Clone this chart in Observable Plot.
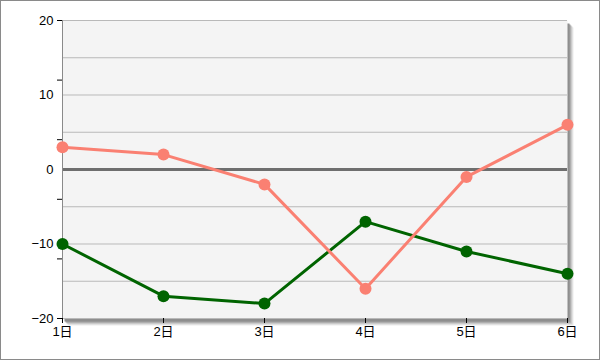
<!DOCTYPE html>
<html><head><meta charset="utf-8">
<script src="https://cdn.jsdelivr.net/npm/d3@7"></script>
<script src="https://cdn.jsdelivr.net/npm/@observablehq/plot@0.6"></script>
<style>
html,body{margin:0;padding:0;background:#fff;}
#chart{position:relative;width:600px;height:360px;overflow:hidden;}
#chart svg{display:block;}
#border{position:absolute;left:0;top:0;width:598px;height:358px;border:1px solid #8a8a8a;pointer-events:none;}
</style></head><body>
<div id="chart"><div id="border"></div></div>
<script>
const days = ["1日","2日","3日","4日","5日","6日"];
const salmonValues = [3, 2, -2, -16, -1, 6];
const greenValues = [-10, -17, -18, -7, -11, -14];
const yLabelTicks = [20, 10, 0, -10, -20];
const yMarkTicks = [20, 12, 4, -4, -12, -20];
const yGridValues = [20, 15, 10, 5, -5, -10, -15, -20];

const salmonData = days.map((d, i) => ({day: d, value: salmonValues[i]}));
const greenData = days.map((d, i) => ({day: d, value: greenValues[i]}));

const shadowLayers = [
  {off: 6, fill: "#ececec"},
  {off: 5, fill: "#d6d6d6"},
  {off: 4, fill: "#bdbdbd"},
  {off: 3, fill: "#a2a2a2"},
  {off: 2, fill: "#8e8e8e"}
];

const chart = Plot.plot({
  width: 600,
  height: 360,
  marginLeft: 62,
  marginRight: 33,
  marginTop: 20,
  marginBottom: 42,
  style: {
    fontFamily: "'Liberation Sans', 'Noto Sans CJK JP', sans-serif",
    fontSize: "13px",
    background: "transparent",
    color: "#000"
  },
  x: {type: "point", domain: days, padding: 0, axis: null},
  y: {domain: [-20, 20], axis: null},
  marks: [
    ...shadowLayers.map(s => Plot.frame({fill: s.fill, stroke: null, dx: s.off, dy: s.off + 1})),
    Plot.frame({fill: "#f4f4f4", stroke: null}),
    Plot.ruleY(yGridValues, {stroke: "#b9b9b9", strokeWidth: 1}),
    Plot.ruleY([0], {stroke: "#6e6e6e", strokeWidth: 3}),
    Plot.ruleX([days[0]], {stroke: "#8a8a8a", strokeWidth: 1}),
    Plot.axisY({ticks: yMarkTicks, tickFormat: () => "", tickSize: 5, stroke: "#000", label: null}),
    Plot.axisY({ticks: yLabelTicks, tickSize: 0, tickPadding: 9, fill: "#000", label: null}),
    Plot.axisX({tickSize: 5, tickPadding: 3, stroke: "#000", fill: "#000", label: null}),
    Plot.line(greenData, {x: "day", y: "value", stroke: "#006400", strokeWidth: 3}),
    Plot.dot(greenData, {x: "day", y: "value", r: 6, fill: "#006400", stroke: null}),
    Plot.line(salmonData, {x: "day", y: "value", stroke: "#fa8072", strokeWidth: 3}),
    Plot.dot(salmonData, {x: "day", y: "value", r: 6, fill: "#fa8072", stroke: null})
  ]
});
document.getElementById("chart").prepend(chart);
</script>
</body></html>
